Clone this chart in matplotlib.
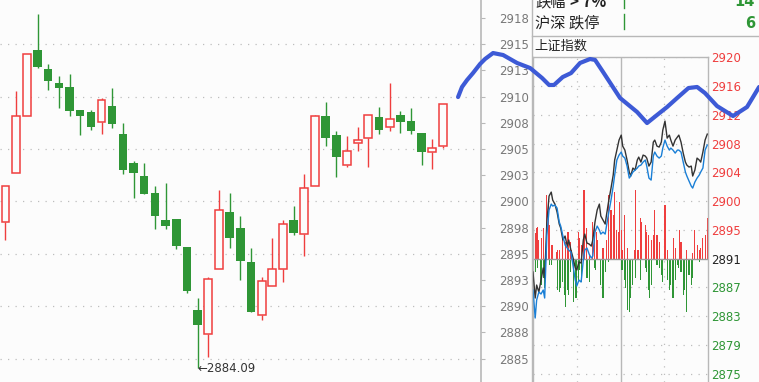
import matplotlib
matplotlib.use('Agg')
import matplotlib.pyplot as plt
from matplotlib.lines import Line2D

plt.rcParams['font.family'] = ['DejaVu Sans', 'Noto Sans CJK SC']

BG = '#fcfcfc'
RED = '#ef3e3e'
GREEN = '#2f9636'
GRID = '#bdbdbd'
AXIS = '#b8b8b8'
LABEL = '#787878'
OVERLAY = '#3d5ad6'

# ---------------- daily candles ----------------
opens = [2898.02, 2902.70, 2908.14, 2914.44, 2912.62, 2911.29, 2910.91, 2908.71, 2908.52, 2907.57,
         2909.09, 2906.42, 2903.65, 2902.41, 2900.79, 2898.22, 2898.31, 2895.64, 2889.63, 2887.34,
         2893.54, 2898.98, 2897.45, 2894.21, 2889.18, 2891.92, 2893.54, 2898.22, 2896.88, 2901.46,
         2908.14, 2906.33, 2903.46, 2905.56, 2906.04, 2908.04, 2907.09, 2908.23, 2907.66, 2906.51,
         2904.70, 2905.28]
highs = [2901.46, 2910.52, 2914.06, 2917.87, 2913.10, 2911.96, 2912.15, 2908.71, 2908.71, 2909.86,
         2910.81, 2907.46, 2903.85, 2903.65, 2901.46, 2901.75, 2898.31, 2895.64, 2890.77, 2892.78,
         2901.08, 2900.79, 2898.60, 2895.54, 2892.78, 2896.50, 2898.22, 2899.55, 2902.60, 2908.23,
         2909.47, 2906.70, 2906.23, 2907.09, 2908.23, 2908.99, 2911.29, 2908.61, 2908.90, 2906.51,
         2905.94, 2909.29]
lows = [2896.31, 2902.70, 2908.14, 2912.72, 2910.62, 2908.90, 2908.14, 2906.33, 2906.80, 2906.42,
        2906.99, 2902.60, 2900.31, 2900.70, 2897.36, 2897.36, 2895.45, 2891.25, 2884.09, 2885.14,
        2893.54, 2895.54, 2892.49, 2889.44, 2888.67, 2891.92, 2892.30, 2896.78, 2894.78, 2901.46,
        2905.28, 2902.32, 2903.27, 2904.80, 2903.27, 2906.42, 2906.70, 2906.51, 2906.42, 2903.46,
        2903.08, 2905.09]
closes = [2901.46, 2908.14, 2914.06, 2912.82, 2911.48, 2910.81, 2908.62, 2908.14, 2907.09, 2909.67,
          2907.38, 2902.99, 2902.70, 2900.70, 2898.60, 2897.64, 2895.73, 2891.44, 2888.20, 2892.59,
          2899.17, 2896.50, 2894.30, 2889.44, 2892.40, 2893.54, 2897.83, 2896.98, 2901.27, 2908.14,
          2906.04, 2904.23, 2904.80, 2905.85, 2908.23, 2906.80, 2907.85, 2907.57, 2906.70, 2904.70,
          2905.09, 2909.29]

main_ticks = [2885, 2887.5, 2890, 2892.5, 2895, 2897.5, 2900, 2902.5, 2905, 2907.5,
              2910, 2912.5, 2915, 2917.5]
main_tick_labels = ['2885', '2888', '2890', '2893', '2895', '2898', '2900', '2903', '2905', '2908',
                    '2910', '2913', '2915', '2918']
main_grid = [2885, 2890, 2895, 2900, 2905, 2910, 2915]
low_label = '2884.09'

# hand-drawn overlay line (candle index, price)
overlay_x = [42.41, 42.78, 43.25, 43.81, 44.47, 44.94, 45.69, 46.63, 47.94, 49.16, 50.28, 50.94,
             51.40, 52.22, 53.00, 53.84, 54.78, 55.25, 56.00, 57.59, 59.19, 60.12, 61.06, 62.00,
             62.94, 64.00, 64.81, 65.55, 66.68, 68.18, 69.49, 70.62]
overlay_y = [2909.95, 2910.91, 2911.57, 2912.24, 2913.10, 2913.58, 2914.15, 2913.96, 2913.20,
             2912.72, 2911.77, 2911.10, 2911.10, 2911.86, 2912.24, 2913.20, 2913.58, 2913.49,
             2912.34, 2909.86, 2908.52, 2907.47, 2908.24, 2909.00, 2909.86, 2910.81, 2910.91,
             2910.33, 2909.09, 2908.14, 2909.00, 2910.91]

# ---------------- intraday panel (上证指数) ----------------
minutes = [0, 3, 5, 8, 11, 14, 16, 19, 22, 25, 27, 30, 33, 36, 38, 41, 44, 47, 49, 52, 55, 58,
           60, 63, 66, 69, 71, 74, 77, 80, 82, 85, 88, 91, 93, 96, 99, 101, 104, 107, 110, 112,
           115, 118, 121, 123, 126, 129, 132, 134, 137, 140, 143, 145, 148, 151, 154, 156, 159,
           162, 165, 167, 170, 173, 176, 178, 181, 184, 187, 189, 192, 195, 198, 200, 203, 206,
           209, 211, 214, 217, 219, 222, 225, 228, 230, 233, 236, 239]
price_line = [2889.48, 2885.77, 2887.62, 2886.62, 2888.33, 2890.05, 2888.62, 2896.61, 2900.31,
              2900.88, 2899.74, 2899.17, 2898.03, 2896.32, 2895.75, 2894.04, 2894.61, 2893.18,
              2894.04, 2892.61, 2891.47, 2890.05, 2889.76, 2890.90, 2890.76, 2894.04, 2894.89,
              2893.61, 2893.47, 2893.18, 2894.04, 2896.61, 2898.32, 2899.17, 2897.46, 2896.89,
              2896.32, 2897.75, 2899.74, 2901.45, 2903.31, 2905.45, 2906.87, 2908.30, 2909.01,
              2907.44, 2906.87, 2905.45, 2903.74, 2903.17, 2904.31, 2904.02, 2905.45, 2905.87,
              2905.16, 2906.16, 2906.02, 2905.73, 2904.59, 2905.16, 2908.01, 2908.30, 2907.44,
              2907.30, 2908.01, 2909.72, 2911.01, 2908.58, 2909.01, 2908.30, 2907.44, 2908.30,
              2908.73, 2909.01, 2908.01, 2906.44, 2905.16, 2904.73, 2904.45, 2904.59, 2903.17,
              2904.02, 2905.73, 2905.45, 2905.16, 2906.59, 2908.30, 2909.15]
avg_line = [2886.91, 2882.92, 2885.48, 2886.62, 2886.34, 2886.91, 2885.77, 2894.75, 2898.32,
            2899.17, 2898.89, 2899.03, 2898.60, 2896.61, 2896.03, 2894.61, 2893.33, 2892.90,
            2892.61, 2892.33, 2890.33, 2888.33, 2887.48, 2888.33, 2888.05, 2891.19, 2892.61,
            2892.90, 2892.04, 2891.47, 2891.76, 2895.18, 2896.03, 2895.46, 2894.89, 2895.18,
            2894.89, 2896.18, 2898.03, 2899.74, 2901.74, 2903.31, 2905.45, 2906.16, 2906.59,
            2906.02, 2905.73, 2904.59, 2902.88, 2903.17, 2903.74, 2904.02, 2904.31, 2904.59,
            2904.73, 2905.16, 2905.45, 2904.59, 2902.88, 2902.59, 2906.02, 2906.59, 2906.02,
            2905.73, 2906.02, 2907.16, 2908.30, 2907.44, 2906.87, 2907.16, 2906.87, 2906.44,
            2906.87, 2906.87, 2906.59, 2905.16, 2903.74, 2903.17, 2902.45, 2901.74, 2901.45,
            2902.31, 2902.88, 2903.31, 2903.74, 2904.31, 2906.87, 2907.59]

up_t = [3, 5, 6, 8, 12, 14, 18, 19, 21, 22, 23, 25, 26, 32, 34, 36, 41, 44, 48, 51, 53, 63, 64,
        66, 70, 71, 73, 78, 82, 84, 87, 89, 96, 101, 103, 104, 106, 107, 108, 111, 112, 114, 117,
        118, 119, 121, 123, 126, 129, 130, 139, 141, 144, 148, 149, 154, 155, 158, 162, 165, 167,
        170, 174, 181, 182, 185, 193, 195, 201, 203, 210, 219, 222, 225, 228, 230, 233, 236, 239]
up_h = [3.64, 4.35, 4.49, 2.64, 2.92, 4.35, 8.34, 9.06, 8.34, 4.78, 3.35, 1.93, 1.93, 0.93, 1.21,
        1.21, 3.35, 2.35, 3.78, 2.35, 1.21, 3.78, 2.92, 1.93, 9.77, 2.64, 4.35, 0.50, 5.20, 4.78,
        3.78, 2.64, 1.50, 2.64, 6.20, 9.06, 4.78, 6.92, 4.06, 6.20, 9.48, 4.06, 2.64, 3.78, 8.06,
        4.06, 1.21, 6.20, 1.50, 1.21, 1.21, 9.77, 1.21, 5.78, 5.20, 4.78, 3.78, 3.35, 2.64, 3.35,
        6.92, 3.35, 2.35, 7.63, 5.78, 1.21, 2.92, 1.50, 4.06, 2.35, 1.21, 0.78, 4.06, 1.93, 1.21,
        1.50, 2.92, 3.35, 5.78]
down_t = [0, 1, 3, 4, 6, 10, 11, 12, 15, 16, 23, 25, 34, 36, 37, 40, 43, 45, 48, 49, 52, 55, 56,
          59, 62, 64, 67, 74, 75, 77, 78, 85, 86, 92, 93, 96, 99, 103, 122, 125, 127, 130, 132,
          134, 137, 140, 141, 147, 148, 155, 156, 159, 160, 162, 170, 173, 176, 177, 185, 187,
          188, 191, 192, 195, 198, 199, 203, 206, 207, 208, 210, 211, 214, 217, 218, 228]
down_h = [3.35, 2.35, 1.64, 1.93, 1.35, 1.93, 3.78, 3.07, 2.78, 4.21, 0.93, 0.93, 4.49, 4.78,
          4.21, 3.35, 5.20, 6.92, 4.49, 5.20, 1.93, 2.35, 6.20, 5.63, 3.07, 1.64, 3.35, 2.78, 2.78,
          3.35, 3.07, 1.35, 1.64, 2.35, 3.78, 5.63, 1.93, 0.50, 1.64, 3.07, 4.21, 7.34, 7.63, 5.63,
          3.78, 1.64, 2.78, 2.35, 3.07, 1.35, 1.93, 4.49, 5.63, 3.78, 0.93, 1.35, 2.35, 3.35, 3.07,
          4.49, 3.78, 2.35, 5.63, 3.07, 0.93, 1.35, 1.93, 2.35, 5.20, 4.49, 7.63, 3.35, 2.35, 3.78,
          2.78, 0.50]

preclose = 2891.4
level_step = 4.1
level_labels = ['2875', '2879', '2883', '2887', '2891', '2895', '2900', '2904', '2908', '2912',
                '2916', '2920']

# ---------------- figure ----------------
W, H = 759, 382
fig = plt.figure(figsize=(W / 100, H / 100), dpi=100, facecolor=BG)

# main candlestick axes
ax = fig.add_axes([0, 0, 481 / W, 1])
ax.set_zorder(5)
ax.patch.set_visible(False)
ax.set_xlim(-0.515, 44.56)
ax.set_ylim(2882.76, 2919.21)
for s in ['left', 'top', 'bottom']:
    ax.spines[s].set_visible(False)
ax.spines['right'].set_color(AXIS)
ax.spines['right'].set_linewidth(1.2)
ax.set_xticks([])
ax.yaxis.tick_right()
ax.set_yticks(main_ticks)
ax.set_yticklabels(main_tick_labels)
ax.tick_params(axis='y', direction='out', length=3, width=0.8, color=AXIS, pad=10,
               labelsize=8.5, labelcolor=LABEL)
for g in main_grid:
    ax.axhline(g, color=GRID, lw=0.9, ls=(0, (1, 5)), zorder=0)

for i, (o, h, l, c) in enumerate(zip(opens, highs, lows, closes)):
    if c >= o:
        ax.vlines(i, c, h, color=RED, lw=1.0, zorder=2)
        ax.vlines(i, l, o, color=RED, lw=1.0, zorder=2)
        ax.bar(i, c - o, bottom=o, width=0.74, facecolor=BG, edgecolor=RED, lw=1.1, zorder=3)
    else:
        ax.vlines(i, l, h, color=GREEN, lw=1.0, zorder=2)
        ax.bar(i, o - c, bottom=c, width=0.8, color=GREEN, lw=0, zorder=3)

low_idx = lows.index(min(lows))
ax.text(low_idx, min(lows), '←' + low_label, ha='left', va='center', fontsize=8.5,
        color='#333333', zorder=4)

ax.plot(overlay_x, overlay_y, color=OVERLAY, lw=3.0, solid_capstyle='round',
        solid_joinstyle='round', clip_on=False, zorder=10)

# intraday axes
ax2 = fig.add_axes([533 / W, 0, (708 - 533) / W, (382 - 57) / H])
ax2.set_zorder(1)
ax2.patch.set_facecolor(BG)
ax2.set_xlim(0, 240)
ax2.set_ylim(2873.79, 2920.15)
for s in ['left', 'top', 'right']:
    ax2.spines[s].set_color(AXIS)
    ax2.spines[s].set_linewidth(1.0)
ax2.spines['bottom'].set_visible(False)
ax2.set_xticks([])
levels = [preclose + level_step * k for k in range(-4, 8)]
ax2.yaxis.tick_right()
ax2.set_yticks(levels)
ax2.set_yticklabels(level_labels)
ax2.tick_params(axis='y', length=0, pad=2, labelsize=8.5)
for lab, lv in zip(ax2.get_yticklabels(), levels):
    if lv > preclose + 0.01:
        lab.set_color(RED)
    elif lv < preclose - 0.01:
        lab.set_color(GREEN)
    else:
        lab.set_color('#222222')
for lv in levels:
    if abs(lv - preclose) > 0.01:
        ax2.axhline(lv, color=GRID, lw=0.9, ls=(0, (1, 5)), zorder=0)
ax2.axvline(60, color=GRID, lw=0.9, ls=(0, (1, 5)), zorder=0)
ax2.axvline(180, color=GRID, lw=0.9, ls=(0, (1, 5)), zorder=0)
ax2.axvline(120, color=AXIS, lw=1.0, zorder=0)

ax2.bar(up_t, up_h, bottom=preclose, width=1.5, color=RED, lw=0, zorder=1)
ax2.bar(down_t, [-v for v in down_h], bottom=preclose, width=1.5, color=GREEN, lw=0, zorder=1)
ax2.axhline(preclose, color='#9a9a9a', lw=1.0, zorder=2)
ax2.plot(minutes, price_line, color='#333333', lw=1.0, zorder=3)
ax2.plot(minutes, avg_line, color='#1a7fd6', lw=1.0, zorder=3)

# panel header
def fx(px):
    return px / W


def fy(py):
    return 1 - py / H


cjk = ['Noto Sans CJK SC', 'DejaVu Sans']
fig.add_artist(Line2D([fx(532), fx(532)], [0, 1], color=AXIS, lw=1.0))
fig.add_artist(Line2D([fx(532), 1], [fy(36), fy(36)], color=AXIS, lw=1.0))
fig.add_artist(Line2D([fx(624), fx(624)], [fy(0), fy(8)], color=GREEN, lw=1.0))
fig.add_artist(Line2D([fx(624), fx(624)], [fy(14), fy(29)], color=GREEN, lw=1.0))
fig.text(fx(535), fy(2), '跌幅', family=cjk, fontsize=11, color='#222222', va='center')
fig.text(fx(570), fy(2), '> 7%', family=cjk, fontsize=11, color='#222222', va='center',
         fontweight='bold')
fig.text(fx(535), fy(23), '沪深 跌停', family=cjk, fontsize=11, color='#222222', va='center')
fig.text(fx(755), fy(2), '14', fontsize=10.5, color=GREEN, va='center', ha='right',
         fontweight='bold')
fig.text(fx(755), fy(23), '6', fontsize=10.5, color=GREEN, va='center', ha='right',
         fontweight='bold')
fig.text(fx(534), fy(46), '上证指数', family=cjk, fontsize=9.5, color='#222222', va='center')

fig.savefig('out.png', dpi=100, facecolor=BG)
